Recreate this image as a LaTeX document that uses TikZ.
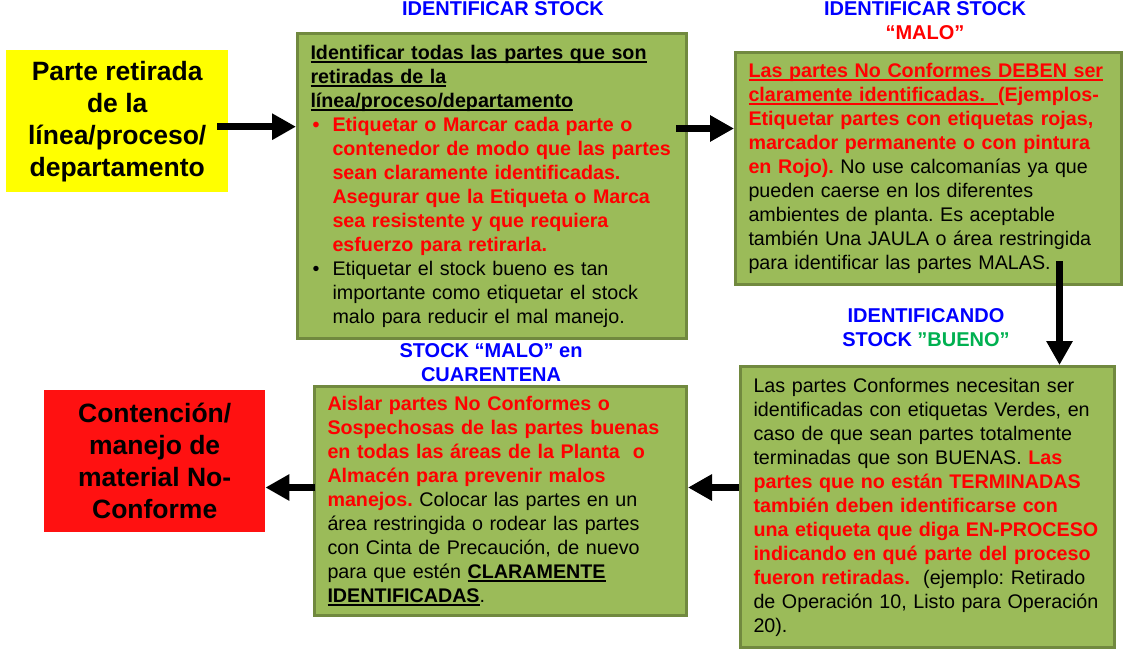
\documentclass[tikz,border=0pt]{standalone}
\usepackage{fontspec}
\setmainfont{Liberation Sans}
\usetikzlibrary{arrows.meta,positioning}
\frenchspacing
\definecolor{OliveFill}{HTML}{9BBB59}
\definecolor{OliveEdge}{HTML}{71893F}
\definecolor{TitleBlue}{RGB}{0,0,255}
\definecolor{BuenoGreen}{HTML}{00B050}
\definecolor{AlertRed}{RGB}{255,0,0}
\definecolor{FlagRed}{RGB}{255,17,17}
\definecolor{FlagYellow}{RGB}{255,255,0}

\newsavebox\ulsave
\newcommand{\ulbox}[1]{\leavevmode\sbox\ulsave{#1}\rlap{\rule[-3.5pt]{\wd\ulsave}{1.8pt}}\usebox\ulsave}
\newcommand{\bul}{\makebox[22pt][l]{\hspace{2pt}\textbullet}}
\newcommand{\ind}{\hspace*{22pt}}
\newcommand{\looselines}{\rightskip=-24pt plus 1fil\hyphenpenalty=10000\relax}

\begin{document}
\begin{tikzpicture}[x=1pt,y=-1pt,
  stepbox/.style={rectangle, draw=OliveEdge, line width=3pt, fill=OliveFill, anchor=north west,
    inner xsep=13pt, inner ysep=0pt, align=left, font=\fontsize{19.7}{24}\selectfont},
  flagbox/.style={rectangle, anchor=north west, inner sep=0pt, align=center,
    font=\fontsize{26.5}{32}\selectfont\bfseries},
  steptitle/.style={anchor=base, inner sep=0pt, text=TitleBlue, font=\fontsize{20}{24}\selectfont\bfseries},
  bigarrow/.style={line width=7.5pt, -{Triangle[length=24pt,width=25pt]}}]

\useasboundingbox (0,0) rectangle (1123,655);

% Start / end flags
\node[flagbox, fill=FlagYellow, minimum width=222pt, minimum height=142pt] (retirada) at (6,50)
  {Parte retirada\\de la\\línea/proceso/\\departamento};
\node[flagbox, fill=FlagRed, minimum width=221pt, minimum height=142pt] (contencion) at (44,390)
  {Contención/\\manejo de\\material No-\\Conforme};

% --- Step 1: identificar stock ---
\node[steptitle] (ttlident) at (503,16) {IDENTIFICAR STOCK};
\node[stepbox, minimum width=389pt, minimum height=305pt, text width=363pt] (identstock) at (296,32)
  {\looselines\bfseries\ulbox{Identificar todas las partes que son}\\
   \ulbox{retiradas de la}\\
   \ulbox{línea/proceso/departamento}\\
   \color{AlertRed}\bul Etiquetar o Marcar cada parte o\\
   \ind contenedor de modo que las partes\\
   \ind sean claramente identificadas.\\
   \ind Asegurar que la Etiqueta o Marca\\
   \ind sea resistente y que requiera\\
   \ind esfuerzo para retirarla.\\
   \mdseries\color{black}\bul Etiquetar el stock bueno es tan\\
   \ind importante como etiquetar el stock\\
   \ind malo para reducir el mal manejo.};

% --- Step 2: stock malo ---
\node[steptitle] (ttlmalo) at (925,16) {IDENTIFICAR STOCK};
\node[steptitle, text=AlertRed] (ttlmalob) at (925,40) {“MALO”};
\node[stepbox, minimum width=386pt, minimum height=232pt, text width=360pt] (stockmalo) at (734,51)
  {\looselines{\bfseries\color{AlertRed}\ulbox{Las partes No Conformes DEBEN ser}\\
   \ulbox{claramente identificadas.\ \ }(Ejemplos-\\
   Etiquetar partes con etiquetas rojas,\\
   marcador permanente o con pintura\\
   en Rojo).} No use calcomanías ya que\\
   pueden caerse en los diferentes\\
   ambientes de planta. Es aceptable\\
   también Una JAULA o área restringida\\
   para identificar las partes MALAS.};

% --- Step 3: stock bueno ---
\node[steptitle] (ttlbueno) at (926,322) {IDENTIFICANDO};
\node[steptitle] (ttlbuenob) at (926,346) {STOCK \textcolor{BuenoGreen}{”BUENO”}};
\node[stepbox, minimum width=374pt, minimum height=281pt, text width=348pt] (stockbueno) at (739,365)
  {\looselines Las partes Conformes necesitan ser\\
   identificadas con etiquetas Verdes, en\\
   caso de que sean partes totalmente\\
   terminadas que son BUENAS. {\bfseries\color{AlertRed}Las\\
   partes que no están TERMINADAS\\
   también deben identificarse con\\
   una etiqueta que diga EN-PROCESO\\
   indicando en qué parte del proceso\\
   fueron retiradas.}\ \ (ejemplo: Retirado\\
   de Operación 10, Listo para Operación\\
   20).};

% --- Step 4: cuarentena ---
\node[steptitle] (ttlcuar) at (491,357) {STOCK “MALO” en};
\node[steptitle] (ttlcuarb) at (491,381) {CUARENTENA};
\node[stepbox, minimum width=372pt, minimum height=229pt, text width=346pt] (cuarentena) at (313,385)
  {\looselines{\bfseries\color{AlertRed}Aislar partes No Conformes o\\
   Sospechosas de las partes buenas\\
   en todas las áreas de la Planta\ \ o\\
   Almacén para prevenir malos\\
   manejos.} Colocar las partes en un\\
   área restringida o rodear las partes\\
   con Cinta de Precaución, de nuevo\\
   para que estén {\bfseries\ulbox{CLARAMENTE}}\\
   {\bfseries\ulbox{IDENTIFICADAS}}.};

% Arrows
\coordinate (tailA) at ([xshift=-11pt,yshift=-5.5pt]retirada.east);
\coordinate (tailB) at ([xshift=-12pt,yshift=57.5pt]identstock.east);
\coordinate (tailC) at ([xshift=131pt,yshift=25pt]stockmalo.south);
\coordinate (tailD) at ([yshift=19.5pt]stockbueno.west);
\coordinate (tailE) at ([xshift=2pt,yshift=13.5pt]cuarentena.west);
\draw[bigarrow] (tailA) -- (tailA -| identstock.west);
\draw[bigarrow] (tailB) -- (tailB -| stockmalo.west);
\draw[bigarrow] (tailC) -- (tailC |- stockbueno.north);
\draw[bigarrow] (tailD) -- (tailD -| cuarentena.east);
\draw[bigarrow] (tailE) -- (tailE -| contencion.east);

\end{tikzpicture}
\end{document}
